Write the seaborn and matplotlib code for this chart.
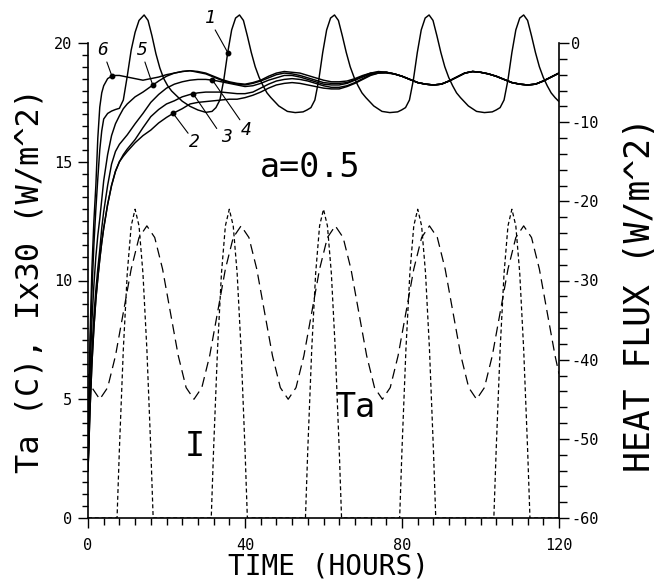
import numpy as np
import matplotlib
matplotlib.use("Agg")
import matplotlib.pyplot as plt
import seaborn as sns
from matplotlib.ticker import FixedLocator

# ---------------- data ----------------
# heat-flux curves 2-6, time grid (hours)
T_FLUX = [0, 0.25, 0.5, 1, 1.5, 2, 2.5, 3, 3.5, 4, 5, 6, 7, 8, 9, 10,
          12, 14, 16, 18, 20, 22, 24, 26, 28, 30, 32, 34, 36, 38, 40, 42, 44, 46,
          48, 50, 52, 54, 56, 58, 60, 62, 64, 66, 68, 70, 72, 74,
          76, 78, 80, 82, 84, 86, 88, 90, 92, 94, 96, 98, 100, 102, 104, 106,
          108, 110, 112, 114, 116, 118, 120]

# heat flux (W/m^2)
HF6 = [-54, -45, -37.5, -28.5, -22.5, -18, -12, -8.1, -6.3, -5.4, -4.5, -4.2, -4.1, -4.1, -4.2, -4.3,
       -4.5, -4.7, -4.5, -4.3, -4.0, -3.8, -3.6, -3.5, -3.6, -3.8, -4.2, -4.6, -4.9, -5.1, -5.2, -5.0, -4.7, -4.2,
       -3.8, -3.6, -3.7, -3.8, -4.1, -4.4, -4.7, -4.9, -4.9, -4.8, -4.5, -4.1, -3.8, -3.6,
       -3.7, -3.9, -4.2, -4.6, -5.0, -5.2, -5.3, -5.2, -4.8, -4.3, -3.8, -3.6, -3.7, -3.9, -4.2, -4.6,
       -5.0, -5.2, -5.3, -5.2, -4.8, -4.3, -3.8]
HF5 = [-54, -48, -42, -35.1, -30.6, -27, -24.3, -22.2, -19.8, -17.4, -14.1, -11.7, -10.2, -9.2, -8.3, -7.7,
       -6.8, -6.2, -5.5, -4.8, -4.2, -3.8, -3.6, -3.5, -3.7, -3.9, -4.3, -4.7, -5.0, -5.2, -5.3, -5.1, -4.8, -4.4,
       -4.0, -3.8, -3.9, -4.1, -4.4, -4.7, -5.0, -5.1, -5.1, -5.0, -4.6, -4.2, -3.8, -3.7,
       -3.7, -3.9, -4.2, -4.6, -5.0, -5.2, -5.3, -5.2, -4.8, -4.3, -3.8, -3.6, -3.7, -3.9, -4.2, -4.6,
       -5.0, -5.2, -5.3, -5.2, -4.8, -4.3, -3.8]
HF4 = [-54, -49.5, -45, -39, -34.5, -31.2, -28.5, -26.1, -23.4, -21.3, -18, -15.3, -13.7, -12.8, -12.2, -11.6,
       -10.2, -8.9, -7.5, -6.5, -5.7, -5.2, -4.9, -4.7, -4.6, -4.6, -4.7, -4.9, -5.1, -5.3, -5.5, -5.4, -5.1, -4.7,
       -4.4, -4.1, -4.1, -4.3, -4.6, -4.9, -5.2, -5.3, -5.3, -5.1, -4.7, -4.3, -3.9, -3.7,
       -3.7, -3.9, -4.2, -4.6, -5.0, -5.2, -5.3, -5.2, -4.8, -4.3, -3.8, -3.6, -3.7, -3.9, -4.2, -4.6,
       -5.0, -5.2, -5.3, -5.2, -4.8, -4.3, -3.8]
HF3 = [-54, -50.4, -46.5, -40.5, -36, -32.4, -29.7, -27.3, -25.2, -23.4, -20.4, -18, -16.2, -15, -14.1, -13.4,
       -12.2, -10.7, -9.3, -8.4, -7.7, -7.3, -6.8, -6.5, -6.3, -6.2, -6.2, -6.2, -6.3, -6.4, -6.4, -6.2, -5.7, -5.2,
       -4.8, -4.6, -4.5, -4.6, -4.8, -5.1, -5.4, -5.6, -5.6, -5.4, -5.0, -4.5, -4.0, -3.8,
       -3.7, -3.9, -4.2, -4.6, -5.0, -5.2, -5.3, -5.2, -4.8, -4.3, -3.8, -3.6, -3.7, -3.9, -4.2, -4.6,
       -5.0, -5.2, -5.3, -5.2, -4.8, -4.3, -3.8]
HF2 = [-54, -50.4, -46.5, -40.5, -36, -32.4, -29.7, -27.3, -25.2, -23.4, -20.4, -18, -16.2, -15, -14.3, -13.7,
       -12.6, -11.7, -11.0, -10.1, -9.4, -8.8, -8.3, -7.7, -7.5, -7.4, -7.3, -7.2, -7.1, -7.1, -6.9, -6.6, -6.2, -5.7,
       -5.3, -5.1, -5.0, -5.1, -5.3, -5.5, -5.7, -5.8, -5.8, -5.5, -5.1, -4.6, -4.1, -3.8,
       -3.8, -3.9, -4.2, -4.6, -5.0, -5.2, -5.3, -5.2, -4.8, -4.3, -3.8, -3.6, -3.7, -3.9, -4.2, -4.6,
       -5.0, -5.2, -5.3, -5.2, -4.8, -4.3, -3.8]

# heat-flux curve 1 (own time grid)
T_HF1 = [0, 0.25, 0.5, 1, 1.5, 2, 2.5, 3, 3.5, 4, 5, 6, 7, 8, 9, 10, 11, 12, 13,
         14.3, 15.3, 16.3, 17.3, 18.3, 19.3, 20.3, 21.3, 22.3, 24, 26, 28, 30,
         31.6, 32.6, 33.6, 34.6, 35.6, 36.6, 37.6, 38.6, 39.6, 40.6, 41.6, 42.6, 43.6, 44.6, 45.6, 46.6, 48.6,
         50.8, 52.8, 54.8, 55.8, 56.8, 57.8, 58.8, 59.8, 60.8, 61.8, 62.8, 63.8, 64.8, 65.8, 66.8, 67.8, 68.8, 69.8, 70.8, 72.8,
         74.9, 76.9, 78.9, 79.9, 80.9, 81.9, 82.9, 83.9, 84.9, 85.9, 86.9, 87.9, 88.9, 89.9, 90.9, 91.9, 92.9, 93.9, 94.9, 96.9,
         99, 101, 103, 104, 105, 106, 107, 108, 109, 110, 111, 112, 113, 114, 115, 116, 117, 118, 119, 120]
HF1 = [-54, -46.5, -39, -31.5, -25.5, -21, -17.1, -13.5, -11.1, -9.6, -8.9, -8.6, -8.4, -8.25, -7.2, -4.2, -0.9, 1.35, 2.85,
       3.54, 2.85, 0.9, -1.35, -3.15, -4.5, -5.4, -6.06, -6.54, -7.35, -8.0, -8.46, -8.76,
       -8.64, -8.16, -7.2, -4.65, -1.2, 1.65, 3.15, 3.54, 2.85, 0.9, -1.2, -3.0, -4.35, -5.4, -6.3, -6.9, -7.95,
       -8.64, -8.79, -8.7, -8.46, -8.16, -7.2, -4.65, -1.2, 1.65, 3.15, 3.54, 2.85, 0.9, -1.2, -3.0, -4.35, -5.4, -6.3, -6.9, -7.95,
       -8.64, -8.79, -8.7, -8.46, -8.16, -7.2, -4.65, -1.2, 1.65, 3.15, 3.54, 2.85, 0.9, -1.2, -3.0, -4.35, -5.4, -6.3, -6.9, -7.95,
       -8.64, -8.79, -8.7, -8.46, -8.16, -7.2, -4.65, -1.2, 1.65, 3.15, 3.54, 2.85, 0.9, -1.2, -3.0, -4.35, -5.4, -6.3, -6.9, -7.4]

# air temperature Ta (C)
T_TA = [0] + list(range(1, 121, 2)) + [120]
TA = ([6.07]
      + [5.49, 5.0, 5.49, 6.83, 8.65, 10.48, 11.81, 12.3, 11.81, 10.48, 8.65, 6.83] * 5
      + [6.07])

# solar radiation I x 30
T_I = [0,
       7.4, 8, 9, 10, 11, 12, 13, 14, 15, 16, 16.6,
       31.4, 32, 33, 34, 35, 36, 37, 38, 39, 40, 40.6,
       55.4, 56, 57, 58, 59, 60, 61, 62, 63, 64, 64.6,
       79.4, 80, 81, 82, 83, 84, 85, 86, 87, 88, 88.6,
       103.4, 104, 105, 106, 107, 108, 109, 110, 111, 112, 112.6,
       120]
I30 = ([0]
       + [0, 2.9, 7.1, 10.3, 12.3, 13.0, 12.3, 10.3, 7.1, 2.9, 0] * 5
       + [0])

# curve labels: name, time of the marked point
CURVE_NAMES = ["1", "2", "3", "4", "5", "6"]
MARK_TIMES = [35.6, 21.7, 26.8, 31.7, 16.5, 6.1]

X_TICKS = [0, 40, 80, 120]
LEFT_TICKS = [0, 5, 10, 15, 20]
RIGHT_TICKS = [-60, -50, -40, -30, -20, -10, 0]

# ---------------- style ----------------
sns.set_theme(style="white")
plt.rcParams['font.family'] = ['DejaVu Sans Mono', 'DejaVu Sans']
plt.rcParams['axes.unicode_minus'] = False
plt.rcParams['axes.edgecolor'] = 'black'
plt.rcParams['xtick.color'] = 'black'
plt.rcParams['ytick.color'] = 'black'
plt.rcParams['text.color'] = 'black'
plt.rcParams['axes.labelcolor'] = 'black'

fig = plt.figure(figsize=(6.61, 5.86), dpi=100)
ax = fig.add_axes([88 / 661, 68 / 586, 471 / 661, 508 / 586])
YTOP = 20 + 33 / 23.75
ax.set_xlim(0, 120)
ax.set_ylim(0, YTOP)
ax2 = ax.twinx()
ax2.set_ylim(-60, -60 + 3 * YTOP)

# dashed Ta and I
sns.lineplot(x=T_TA, y=TA, ax=ax, color='black', linewidth=0.9,
             linestyle=(0, (8, 4.5)), estimator=None, sort=False, legend=False)
sns.lineplot(x=T_I, y=I30, ax=ax, color='black', linewidth=0.9,
             linestyle=(0, (3.2, 2.2)), estimator=None, sort=False, legend=False)

# heat flux curves
series = {"1": (T_HF1, HF1), "2": (T_FLUX, HF2), "3": (T_FLUX, HF3),
          "4": (T_FLUX, HF4), "5": (T_FLUX, HF5), "6": (T_FLUX, HF6)}
for name in CURVE_NAMES:
    tt, yy = series[name]
    sns.lineplot(x=tt, y=yy, ax=ax2, color='black', linewidth=1.05,
                 estimator=None, sort=False, legend=False)

# curve labels with leader lines and dots
label_pos = {"1": (31.1, 3.2), "2": (27.1, -12.5), "3": (35.2, -11.9),
             "4": (40.4, -11.0), "5": (13.8, -0.9), "6": (3.8, -0.9)}
leader_start = {"1": (32.4, 1.65), "2": (25.5, -11.4), "3": (32.8, -10.8),
                "4": (38.7, -9.7), "5": (14.5, -2.4), "6": (4.8, -2.4)}
for name, tm in zip(CURVE_NAMES, MARK_TIMES):
    tt, yy = series[name]
    ym = float(np.interp(tm, tt, yy))
    x0, y0 = leader_start[name]
    ax2.plot([x0, tm], [y0, ym], color='black', lw=0.8)
    ax2.plot([tm], [ym], 'o', color='black', ms=3.2)
    lx, ly = label_pos[name]
    ax2.text(lx, ly, name, fontsize=13, style='italic', ha='center', va='center')

# in-plot texts
ax.text(56.6, 14.74, "a=0.5", fontsize=24, ha='center', va='center')
ax.text(68, 4.67, "Ta", fontsize=24, ha='center', va='center')
ax.text(27.3, 2.99, "I", fontsize=24, ha='center', va='center')

# spines
ax.spines['top'].set_visible(False)
ax.spines['right'].set_visible(False)
ax.spines['left'].set_bounds(0, 20)
for s in ['top', 'left', 'bottom']:
    ax2.spines[s].set_visible(False)
ax2.spines['right'].set_bounds(-60, 0)
for sp in [ax.spines['left'], ax.spines['bottom'], ax2.spines['right']]:
    sp.set_linewidth(1.2)
    sp.set_color('black')

# ticks
ax.xaxis.set_major_locator(FixedLocator(X_TICKS))
ax.xaxis.set_minor_locator(FixedLocator(np.arange(0, 121, 4)))
ax.yaxis.set_major_locator(FixedLocator(LEFT_TICKS))
ax.yaxis.set_minor_locator(FixedLocator(np.arange(0, 20.01, 0.5)))
ax2.yaxis.set_major_locator(FixedLocator(RIGHT_TICKS))
ax2.yaxis.set_minor_locator(FixedLocator(np.arange(-60, 0.1, 2)))

ax.tick_params(axis='x', which='major', bottom=True, direction='out', length=7.5, width=1, pad=7, labelsize=11)
ax.tick_params(axis='x', which='minor', bottom=True, direction='out', length=5, width=1)
ax.tick_params(axis='y', which='major', left=True, direction='out', length=7.2, width=1, pad=4, labelsize=11)
ax.tick_params(axis='y', which='minor', left=True, direction='out', length=4.3, width=1)
ax2.tick_params(axis='y', which='major', right=True, direction='out', length=7, width=1, pad=2, labelsize=11)
ax2.tick_params(axis='y', which='minor', right=True, direction='out', length=6, width=1)

# axis labels
ax.set_xlabel("TIME (HOURS)", fontsize=20)
ax.xaxis.label.set_va('center')
ax.xaxis.set_label_coords(0.51, -0.0945)
ax.set_ylabel("Ta (C), Ix30 (W/m^2)", fontsize=23)
ax.yaxis.label.set_va('center')
ax.yaxis.set_label_coords(-0.123, 0.4675)
ax2.set_ylabel("HEAT FLUX (W/m^2)", fontsize=25, rotation=90)
ax2.yaxis.label.set_va('center')
ax2.yaxis.set_label_coords(1.172, 0.439)

fig.savefig("out.png", dpi=100)
